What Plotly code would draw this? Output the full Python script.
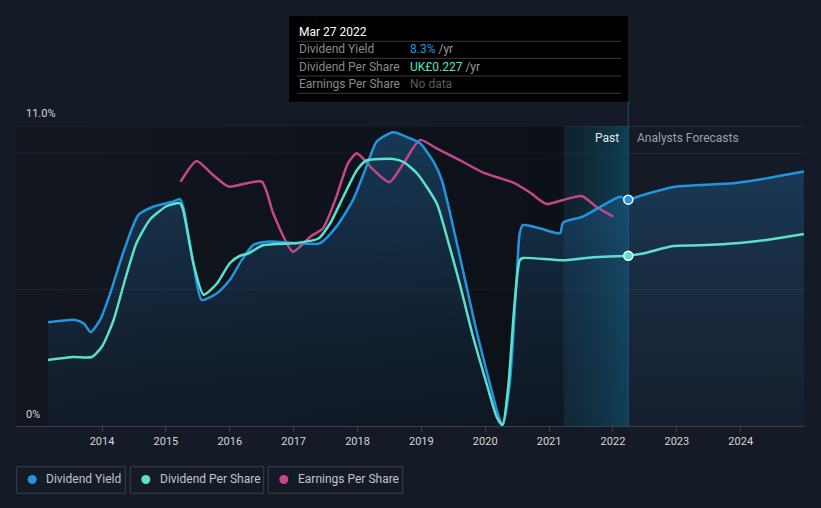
import plotly.graph_objects as go

# ---------------- data ----------------
yield_years = [2013.155, 2013.58, 2013.72, 2013.82, 2013.97, 2014.13, 2014.33, 2014.57, 2014.80,
               2015.12, 2015.22, 2015.27, 2015.43, 2015.56, 2015.80, 2016.00, 2016.19, 2016.37,
               2016.58, 2017.05, 2017.41, 2017.67, 2017.93, 2018.14, 2018.30, 2018.56, 2018.82,
               2018.98, 2019.19, 2019.32, 2019.45, 2019.65, 2019.86, 2020.07, 2020.23, 2020.28,
               2020.39, 2020.49, 2020.54, 2020.59, 2020.85, 2021.17, 2021.22, 2021.53, 2021.85,
               2022.11, 2022.24, 2022.47, 2022.99, 2023.36, 2023.88, 2024.40, 2024.99]
yield_pct = [3.80, 3.89, 3.75, 3.44, 3.89, 4.88, 6.34, 7.74, 8.04,
             8.23, 8.32, 8.04, 5.97, 4.62, 4.87, 5.35, 6.09, 6.64,
             6.76, 6.70, 6.70, 7.31, 8.29, 9.51, 10.43, 10.77, 10.55,
             10.37, 9.69, 9.02, 7.80, 5.72, 3.52, 1.57, 0.22, 0.07,
             1.69, 5.35, 7.07, 7.37, 7.25, 7.07, 7.46, 7.68, 8.10,
             8.41, 8.30, 8.47, 8.78, 8.84, 8.90, 9.08, 9.33]

dps_years = [2013.155, 2013.55, 2013.84, 2014.00, 2014.18, 2014.36, 2014.54, 2014.75, 2015.01,
             2015.22, 2015.27, 2015.43, 2015.59, 2015.80, 2016.00, 2016.16, 2016.29, 2016.52,
             2017.05, 2017.39, 2017.57, 2017.78, 2017.99, 2018.14, 2018.56, 2018.72, 2018.93,
             2019.24, 2019.40, 2019.60, 2019.81, 2020.02, 2020.18, 2020.27, 2020.36, 2020.46,
             2020.54, 2020.59, 2021.22, 2021.69, 2022.24, 2022.47, 2022.94, 2023.36, 2023.98,
             2024.40, 2024.99]
dps_gbp = [0.088, 0.092, 0.092, 0.106, 0.141, 0.195, 0.244, 0.275, 0.293,
           0.297, 0.288, 0.217, 0.175, 0.190, 0.217, 0.227, 0.230, 0.241,
           0.244, 0.250, 0.270, 0.306, 0.341, 0.354, 0.356, 0.352, 0.337,
           0.297, 0.252, 0.190, 0.119, 0.057, 0.012, 0.001, 0.052, 0.164,
           0.221, 0.224, 0.221, 0.225, 0.227, 0.230, 0.240, 0.241, 0.244,
           0.248, 0.256]

eps_years = [2015.23, 2015.48, 2015.74, 2015.98, 2016.50, 2016.68, 2016.99, 2017.26, 2017.46,
             2017.67, 2017.85, 2017.99, 2018.25, 2018.50, 2018.72, 2018.98, 2019.24, 2019.60,
             2019.97, 2020.44, 2020.70, 2020.96, 2021.22, 2021.51, 2021.74, 2022.00]
eps_scaled = [8.96, 9.72, 9.20, 8.78, 8.96, 7.80, 6.39, 6.94, 7.25,
              8.41, 9.63, 10.00, 9.39, 8.94, 9.63, 10.49, 10.18, 9.75,
              9.29, 8.92, 8.56, 8.14, 8.29, 8.43, 8.04, 7.68]

year_ticks = list(range(2014, 2025))
past_start = 2021.23
hover_year = 2022.24

# ---------------- styles ----------------
BG = "#151b26"
BLUE = "#2394df"
TEAL = "#5de0c9"
PINK = "#c7468a"
X_RANGE = [2012.653, 2025.007]
Y_RANGE = [0, 11]
DPS_RANGE = [0, 0.4]

fig = go.Figure()

# darker left region
fig.add_trace(go.Scatter(
    x=[X_RANGE[0], past_start, past_start, X_RANGE[0], X_RANGE[0]],
    y=[0, 0, 11, 11, 0], mode="lines", line=dict(width=0), fill="toself",
    fillgradient=dict(type="horizontal",
                      colorscale=[[0, "rgba(5,8,12,0.25)"], [1, "rgba(5,8,12,0.55)"]]),
    hoverinfo="skip", showlegend=False))

# past region
fig.add_trace(go.Scatter(
    x=[past_start, hover_year, hover_year, past_start, past_start],
    y=[0, 0, 11, 11, 0], mode="lines", line=dict(width=0), fill="toself",
    fillgradient=dict(type="horizontal",
                      colorscale=[[0, "rgba(8,45,60,0.35)"], [1, "rgba(14,75,100,0.75)"]]),
    hoverinfo="skip", showlegend=False))

# area under dividend yield
fig.add_trace(go.Scatter(
    x=yield_years, y=yield_pct, mode="lines", line=dict(width=0, shape="spline", smoothing=0.6),
    fill="tozeroy",
    fillgradient=dict(type="vertical",
                      colorscale=[[0, "rgba(30,70,110,0.12)"], [1, "rgba(35,110,170,0.42)"]]),
    hoverinfo="skip", showlegend=False))

# EPS line
fig.add_trace(go.Scatter(
    x=eps_years, y=eps_scaled, mode="lines",
    line=dict(color=PINK, width=2.5, shape="spline", smoothing=0.6),
    hoverinfo="skip", showlegend=False))

# DPS line
fig.add_trace(go.Scatter(
    x=dps_years, y=dps_gbp, mode="lines", yaxis="y2",
    line=dict(color=TEAL, width=2.5, shape="spline", smoothing=0.6),
    hoverinfo="skip", showlegend=False))

# Yield line
fig.add_trace(go.Scatter(
    x=yield_years, y=yield_pct, mode="lines",
    line=dict(color=BLUE, width=2.5, shape="spline", smoothing=0.6),
    hoverinfo="skip", showlegend=False))

# markers at hover date
hi_y = yield_years.index(hover_year)
hi_d = dps_years.index(hover_year)
fig.add_trace(go.Scatter(x=[yield_years[hi_y]], y=[yield_pct[hi_y]], mode="markers",
                         marker=dict(color=BLUE, size=9, line=dict(color="white", width=1.5)),
                         hoverinfo="skip", showlegend=False))
fig.add_trace(go.Scatter(x=[dps_years[hi_d]], y=[dps_gbp[hi_d]], mode="markers", yaxis="y2",
                         marker=dict(color=TEAL, size=9, line=dict(color="white", width=1.5)),
                         hoverinfo="skip", showlegend=False))

W, H = 821, 508
L, R, T, B = 16, 16, 126, 82
pw, ph = W - L - R, H - T - B


def px(xp):
    return (xp - L) / pw


def py(yp):
    return (H - B - yp) / ph


shapes = []
annotations = []

# gridlines
for gv, col in [(5, "#252c37"), (10, "#252c37"), (11, "#3b414b")]:
    shapes.append(dict(type="line", xref="paper", yref="y", x0=0, x1=1, y0=gv, y1=gv,
                       line=dict(color=col, width=1.2), layer="below"))

# vertical hover line (inside plot below traces, above plot in top margin)
shapes.append(dict(type="line", xref="x", yref="paper", x0=hover_year, x1=hover_year,
                   y0=0, y1=1, line=dict(color="#17566d", width=1), layer="below"))
shapes.append(dict(type="line", xref="x", yref="paper", x0=hover_year, x1=hover_year,
                   y0=1, y1=py(101), line=dict(color="#17566d", width=1)))

# tooltip
shapes.append(dict(type="rect", xref="paper", yref="paper", x0=px(289), x1=px(628),
                   y0=py(101.7), y1=py(16), fillcolor="#000000", line=dict(width=0)))
for sy in [41.3, 58.3, 76, 93.3]:
    shapes.append(dict(type="line", xref="paper", yref="paper", x0=px(297), x1=px(621),
                       y0=py(sy), y1=py(sy), line=dict(color="#3a3a3a", width=1)))

FONT = "Roboto, 'Open Sans', sans-serif"
annotations.append(dict(xref="paper", yref="paper", x=px(297), y=py(31.5), text="Mar 27 2022",
                        showarrow=False, xanchor="left", yanchor="middle",
                        font=dict(color="#ffffff", size=12, family=FONT)))
rows = [
    ("Dividend Yield", f"<span style='color:{BLUE}'>{yield_pct[hi_y]:.1f}%</span> /yr", 49.3),
    ("Dividend Per Share", f"<span style='color:{TEAL}'>UK£{dps_gbp[hi_d]:.3f}</span> /yr", 66.7),
    ("Earnings Per Share", "<span style='color:#5a5a5a'>No data</span>", 84.3),
]
for lab, val, yy in rows:
    annotations.append(dict(xref="paper", yref="paper", x=px(297), y=py(yy), text=lab,
                            showarrow=False, xanchor="left", yanchor="middle",
                            font=dict(color="#8a8a8a", size=12, family=FONT)))
    annotations.append(dict(xref="paper", yref="paper", x=px(408), y=py(yy), text=val,
                            showarrow=False, xanchor="left", yanchor="middle",
                            font=dict(color="#9a9a9a", size=12, family=FONT)))

# Past / Forecasts labels
annotations.append(dict(xref="x", yref="paper", x=hover_year, y=py(138), text="Past",
                        showarrow=False, xanchor="right", yanchor="middle", xshift=-7,
                        font=dict(color="#e6e6e6", size=12, family=FONT)))
annotations.append(dict(xref="x", yref="paper", x=hover_year, y=py(138), text="Analysts Forecasts",
                        showarrow=False, xanchor="left", yanchor="middle", xshift=7,
                        font=dict(color="#9aa0a8", size=12, family=FONT)))

# y labels
annotations.append(dict(xref="paper", yref="paper", x=px(24), y=py(114), text="11.0%",
                        showarrow=False, xanchor="left", yanchor="middle",
                        font=dict(color="#d6d6d6", size=11, family=FONT)))
annotations.append(dict(xref="paper", yref="paper", x=px(24), y=py(414), text="0%",
                        showarrow=False, xanchor="left", yanchor="middle",
                        font=dict(color="#d6d6d6", size=11, family=FONT)))

# legend boxes
legend_items = [("Dividend Yield", BLUE, 16.7, 125.3),
                ("Dividend Per Share", TEAL, 130.3, 263.7),
                ("Earnings Per Share", PINK, 268.3, 402.7)]
for name, col, bx0, bx1 in legend_items:
    shapes.append(dict(type="rect", xref="paper", yref="paper", x0=px(bx0), x1=px(bx1),
                       y0=py(493.3), y1=py(466.7), line=dict(color="#3a404a", width=1),
                       fillcolor="rgba(0,0,0,0)"))
    cx, cy, r = bx0 + 15.5, 479.5, 4.5
    shapes.append(dict(type="circle", xref="paper", yref="paper", x0=px(cx - r), x1=px(cx + r),
                       y0=py(cy + r), y1=py(cy - r), fillcolor=col, line=dict(width=0)))
    annotations.append(dict(xref="paper", yref="paper", x=px(bx0 + 27.5), y=py(479.5), text=name,
                            showarrow=False, xanchor="left", yanchor="middle",
                            font=dict(color="#c0c4ca", size=12, family=FONT)))

fig.update_layout(
    width=W, height=H, margin=dict(l=L, r=R, t=T, b=B),
    paper_bgcolor=BG, plot_bgcolor=BG,
    showlegend=False,
    xaxis=dict(range=X_RANGE, tickvals=year_ticks, ticktext=[str(y) for y in year_ticks],
               showgrid=False, zeroline=False, showline=True, linecolor="#3b414b", linewidth=1.2,
               ticks="outside", ticklen=5, tickcolor="#3b414b",
               tickfont=dict(color="#d6d6d6", size=11, family=FONT), fixedrange=True),
    yaxis=dict(range=Y_RANGE, showgrid=False, zeroline=False, showticklabels=False,
               fixedrange=True),
    yaxis2=dict(range=DPS_RANGE, overlaying="y", side="right", visible=False, fixedrange=True),
    shapes=shapes, annotations=annotations,
    font=dict(family=FONT),
)

fig.write_html(
    "out.html",
    config={"displayModeBar": False},
    post_script="document.body.style.margin='0';document.body.style.padding='0';"
                "document.body.style.background='#151b26';document.body.style.overflow='hidden';",
)
